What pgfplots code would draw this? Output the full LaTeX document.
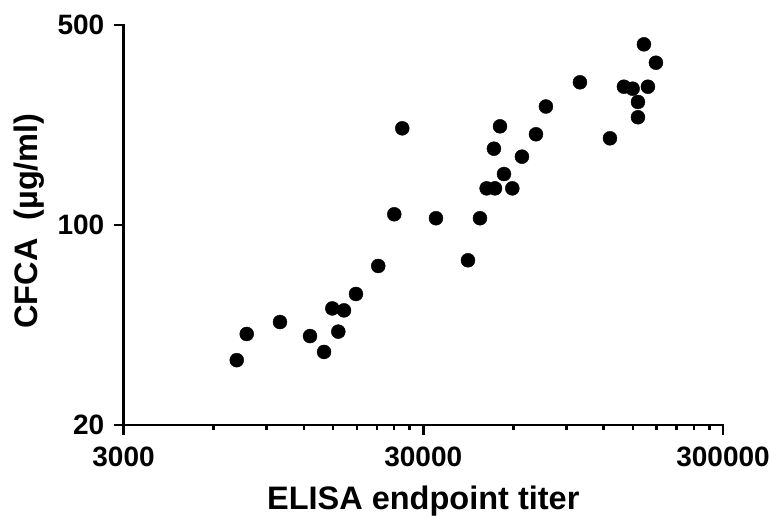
\documentclass[border=0pt]{standalone}
\usepackage{fontspec}
\setmainfont{Liberation Sans}
\usepackage{pgfplots}
\pgfplotsset{compat=1.18}
\begin{document}
\begin{tikzpicture}[x=1pt,y=1pt]
\useasboundingbox (0,0) rectangle (771,515);
\begin{axis}[
  at={(123.5pt,90pt)}, anchor=south west,
  scale only axis, width=599.5pt, height=400pt,
  xmode=log, ymode=log,
  xmin=3000, xmax=300000, ymin=20, ymax=500,
  axis x line*=bottom, axis y line*=left,
  axis line style={-, line width=2.5pt, line cap=rect},
  every tick/.style={black, line width=2.5pt},
  tick align=outside,
  major tick length=10pt, minor tick length=5pt,
  xtick={3000,30000,300000}, xticklabels={3000,30000,300000},
  minor xtick={6000,9000,12000,15000,18000,21000,24000,27000,60000,90000,120000,150000,180000,210000,240000,270000},
  ytick={20,100,500}, yticklabels={20,100,500},
  minor ytick={},
  /pgf/number format/assume math mode=true,
  ticklabel style={font=\fontsize{28}{30}\selectfont\bfseries, inner sep=0pt},
  xticklabel style={anchor=base, yshift=-32pt},
  yticklabel style={anchor=east, xshift=-9pt},
  xlabel={ELISA endpoint titer},
  ylabel={CFCA\ \ (µg/ml)},
  label style={font=\fontsize{32.5}{35}\selectfont\bfseries},
  xlabel style={anchor=base, at={(axis description cs:0.5,-0.21)}},
  ylabel style={anchor=base, at={(axis description cs:-0.143,0.51)}},
  clip=false,
]
\addplot[only marks, mark=*, mark size=7pt, black, mark options={fill=black, draw=black}] coordinates {
(7160,33.7)
(7730,41.6)
(9980,45.8)
(12570,40.9)
(14000,36.0)
(14920,51.1)
(15620,42.4)
(16320,50.3)
(17890,57.4)
(21230,71.9)
(24010,109.0)
(25530,217.7)
(33080,105.6)
(42300,75.3)
(46380,105.6)
(48810,134.3)
(52050,134.3)
(51630,184.8)
(54090,221.2)
(55770,150.7)
(59460,134.3)
(64020,173.3)
(71310,207.5)
(76980,259.5)
(99960,315.3)
(125880,200.9)
(140130,304.3)
(149820,299.5)
(168510,304.3)
(156090,269.1)
(156090,238.0)
(163440,428.0)
(179190,369.1)
};
\end{axis}
\end{tikzpicture}
\end{document}
